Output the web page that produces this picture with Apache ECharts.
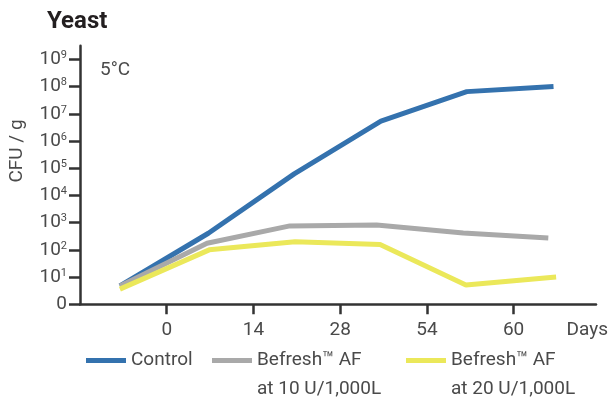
<!DOCTYPE html>
<html>
<head>
<meta charset="utf-8">
<script src="https://cdn.jsdelivr.net/npm/echarts@6/dist/echarts.min.js"></script>
<style>html,body{margin:0;padding:0;background:#fff}#c{width:613px;height:398px}</style>
</head>
<body>
<div id="c"></div>
<script>
// Categories / tick labels (x axis positions: tick index 0..4)
var xTickPos = [0, 1, 2, 3, 4];
var xTickLabels = ['0', '14', '28', '54', '60'];
var xUnitPos = 4.85;
var xUnitLabel = 'Days';

// Y ticks (CFU / g, log scale)
var yTicks = [1, 10, 100, 1e3, 1e4, 1e5, 1e6, 1e7, 1e8, 1e9];

// Series names
var seriesNames = ['Control', 'Befresh™ AF\nat 10 U/1,000L', 'Befresh™ AF\nat 20 U/1,000L'];

// Sample positions (along x axis) and CFU/g values
var controlX = [-0.54, 0.48, 1.47, 2.47, 3.46, 4.46];
var controlY = [4.7, 407, 6.2e4, 5.4e6, 6.5e7, 1.0e8];

var af10X = [-0.54, 0.465, 1.42, 2.42, 3.42, 4.40];
var af10Y = [4.7, 174, 759, 813, 417, 275];

var af20X = [-0.54, 0.49, 1.48, 2.46, 3.45, 4.49];
var af20Y = [3.6, 100, 200, 158, 5.1, 10];

var colors = ['#3472ae', '#a9a9a9', '#ebe85a'];

function zip(xs, ys) { return xs.map(function (x, i) { return [x, ys[i]]; }); }

var FONT = 'Roboto';
var TXT = '#4a4a4a';

var chart = echarts.init(document.getElementById('c'), null, { renderer: 'canvas' });

function legendFor(i, left, top, twoLine) {
  return {
    left: left, top: top, padding: 0,
    data: [seriesNames[i]],
    icon: 'rect', itemWidth: 40, itemHeight: 5,
    selectedMode: false,
    formatter: function (name) { return twoLine ? ' \n' + name : name; },
    textStyle: { fontFamily: FONT, fontSize: 19, color: TXT, lineHeight: 29 }
  };
}

var option = {
  animation: false,
  graphic: [{
    type: 'text', x: 47, y: 22,
    style: { text: 'Yeast', fontFamily: FONT, fontSize: 24, fontWeight: 'bold', fill: '#231f20',
             align: 'left', verticalAlign: 'middle' }
  }, {
    type: 'text', x: 100, y: 70,
    style: { text: '5°C', fontFamily: FONT, fontSize: 19, fill: TXT, align: 'left', verticalAlign: 'middle' }
  }],
  legend: [
    legendFor(0, 86, 346, false),
    legendFor(1, 212, 317, true),
    legendFor(2, 406, 317, true)
  ],
  grid: { left: 80, right: 17, top: 45.7, bottom: 93.7, containLabel: false, outerBoundsMode: 'none' },
  xAxis: {
    type: 'value', min: -1, max: 4.95,
    splitLine: { show: false },
    axisLine: { onZero: false, lineStyle: { color: '#333', width: 2.5 } },
    axisTick: { show: true, length: 10, lineStyle: { color: '#333', width: 2.5 }, customValues: xTickPos },
    axisLabel: {
      customValues: xTickPos.concat([xUnitPos]),
      margin: 16,
      fontFamily: FONT, fontSize: 19, color: TXT,
      formatter: function (v) {
        var i = xTickPos.indexOf(v);
        if (i >= 0) return xTickLabels[i];
        if (Math.abs(v - xUnitPos) < 1e-6) return xUnitLabel;
        return '';
      }
    }
  },
  yAxis: {
    type: 'log', logBase: 10, min: 1, max: Math.pow(10, 9.5),
    name: 'CFU / g', nameLocation: 'middle', nameGap: 53, nameRotate: 90,
    nameTextStyle: { fontFamily: FONT, fontSize: 19, color: TXT, padding: [0, 0, 0, 48] },
    splitLine: { show: false },
    axisLine: { show: true, onZero: false, lineStyle: { color: '#333', width: 2.5 } },
    axisTick: { show: true, length: 11, lineStyle: { color: '#333', width: 2.5 }, customValues: yTicks },
    axisLabel: {
      customValues: yTicks,
      margin: 13,
      fontFamily: FONT, color: TXT,
      formatter: function (v) {
        var e = Math.round(Math.log10(v));
        if (e === 0) return '{b|0}';
        return '{b|10}{s|' + e + '}';
      },
      rich: {
        b: { fontFamily: FONT, fontSize: 19, color: TXT },
        s: { fontFamily: FONT, fontSize: 11, color: TXT, verticalAlign: 'top' }
      }
    }
  },
  series: [
    { name: seriesNames[0], type: 'line', data: zip(controlX, controlY), showSymbol: false, symbol: 'none',
      lineStyle: { color: colors[0], width: 5 }, itemStyle: { color: colors[0] } },
    { name: seriesNames[1], type: 'line', data: zip(af10X, af10Y), showSymbol: false, symbol: 'none',
      lineStyle: { color: colors[1], width: 5 }, itemStyle: { color: colors[1] } },
    { name: seriesNames[2], type: 'line', data: zip(af20X, af20Y), showSymbol: false, symbol: 'none',
      lineStyle: { color: colors[2], width: 5 }, itemStyle: { color: colors[2] } }
  ]
};
chart.setOption(option);
</script>
</body>
</html>
